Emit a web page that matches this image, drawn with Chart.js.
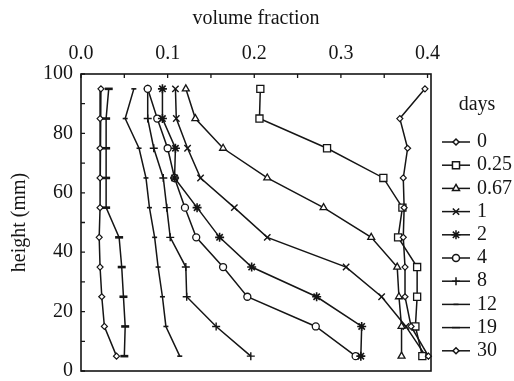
<!DOCTYPE html>
<html>
<head>
<meta charset="utf-8">
<script src="https://cdn.jsdelivr.net/npm/chart.js@4.4.1/dist/chart.umd.min.js"></script>
<style>
    html, body { margin: 0; padding: 0; background: #fff; }
</style>
</head>
<body>
<canvas id="profile" width="514" height="381"></canvas>
<script>
// 측정 높이 (mm) ////////////////////////////////////////////////////////////
const heights = [95, 85, 75, 65, 55, 45, 35, 25, 15, 5];

// 경과 일수별 부피분율 (위 높이 순서)
const days0   = [0.397, 0.368, 0.377, 0.372, 0.373, 0.372, 0.374, 0.374, 0.381, 0.401];
const days025 = [0.207, 0.206, 0.284, 0.349, 0.371, 0.366, 0.388, 0.388, 0.386, 0.394];
const days067 = [0.121, 0.132, 0.164, 0.215, 0.280, 0.335, 0.365, 0.367, 0.370, 0.370];
const days1   = [0.109, 0.110, 0.123, 0.138, 0.177, 0.215, 0.306, 0.347, 0.375, 0.398];
const days2   = [0.094, 0.094, 0.109, 0.108, 0.134, 0.160, 0.197, 0.272, 0.324, 0.323];
const days4   = [0.077, 0.088, 0.100, 0.108, 0.120, 0.133, 0.164, 0.192, 0.271, 0.317];
const days8   = [0.077, 0.077, 0.084, 0.095, 0.099, 0.103, 0.121, 0.122, 0.156, 0.196];
const days12  = [0.061, 0.051, 0.067, 0.075, 0.079, 0.085, 0.089, 0.094, 0.098, 0.114];
const days19  = [0.032, 0.029, 0.029, 0.029, 0.029, 0.044, 0.047, 0.049, 0.051, 0.050];
const days30  = [0.023, 0.022, 0.022, 0.022, 0.022, 0.021, 0.022, 0.024, 0.027, 0.041];

const dayLabels = ['0', '0.25', '0.67', '1', '2', '4', '8', '12', '19', '30'];
const series = [days0, days025, days067, days1, days2, days4, days8, days12, days19, days30];

// 축 눈금
const xTicks = [0, 0.05, 0.1, 0.15, 0.2, 0.25, 0.3, 0.35, 0.4];
const yTicks = [0, 10, 20, 30, 40, 50, 60, 70, 80, 90, 100];

// 마커 모양
const markers = [
    { pointStyle: 'rectRot',  radius: 3,   width: 1.2 },
    { pointStyle: 'rect',     radius: 5,   width: 1.3 },
    { pointStyle: 'triangle', radius: 4,   width: 1.3 },
    { pointStyle: 'crossRot', radius: 4.5, width: 1.4 },
    { pointStyle: 'star',     radius: 4.5, width: 1.6 },
    { pointStyle: 'circle',   radius: 3.5, width: 1.3 },
    { pointStyle: 'cross',    radius: 4,   width: 1.4 },
    { pointStyle: 'line',     radius: 2.5, width: 1.6 },
    { pointStyle: 'line',     radius: 4,   width: 2.6 },
    { pointStyle: 'rectRot',  radius: 3,   width: 1.2 }
];

const INK = '#151515';
const FONT = '"Liberation Serif", "DejaVu Serif", serif';

const datasets = series.map((vals, i) => ({
    label: dayLabels[i],
    data: heights.map((h, k) => ({ x: vals[k], y: h })),
    showLine: true,
    borderColor: INK,
    borderWidth: 1.5,
    pointStyle: markers[i].pointStyle,
    pointRadius: markers[i].radius,
    pointBorderWidth: markers[i].width,
    pointBackgroundColor: '#fff',
    pointBorderColor: INK,
    clip: false
}));

// 테두리 + 안쪽 눈금 ////////////////////////////////////////////////////////
const framePlugin = {
    id: 'frame',
    afterDraw(chart) {
        const ctx = chart.ctx;
        const a = chart.chartArea;
        const xs = chart.scales.x;
        const ys = chart.scales.y;
        ctx.save();
        ctx.strokeStyle = INK;
        ctx.lineWidth = 1.6;
        ctx.strokeRect(a.left, a.top, a.right - a.left, a.bottom - a.top);

        ctx.lineWidth = 1.3;
        ctx.beginPath();
        xTicks.forEach(v => {
            const px = xs.getPixelForValue(v);
            ctx.moveTo(px, a.top);
            ctx.lineTo(px, a.top + 4);
        });
        yTicks.forEach(v => {
            const py = ys.getPixelForValue(v);
            ctx.moveTo(a.left, py);
            ctx.lineTo(a.left + 4, py);
        });
        ctx.stroke();
        ctx.restore();
    }
};

// 오른쪽 범례 ////////////////////////////////////////////////////////////////
const legendPlugin = {
    id: 'daysLegend',
    afterDraw(chart) {
        const ctx = chart.ctx;
        ctx.save();
        ctx.fillStyle = INK;
        ctx.font = '20px ' + FONT;
        ctx.textAlign = 'center';
        ctx.textBaseline = 'middle';
        ctx.fillText('days', 477, 105);

        dayLabels.forEach((lab, i) => {
            const y = 142 + i * 23.2;
            ctx.strokeStyle = INK;
            ctx.lineWidth = 1.5;
            ctx.beginPath();
            ctx.moveTo(442, y);
            ctx.lineTo(470, y);
            ctx.stroke();

            ctx.fillStyle = '#fff';
            Chart.helpers.drawPoint(ctx, {
                pointStyle: markers[i].pointStyle,
                radius: markers[i].radius,
                borderWidth: markers[i].width,
                rotation: 0
            }, 456, y);

            ctx.fillStyle = INK;
            ctx.textAlign = 'left';
            ctx.fillText(lab, 477, y);
        });
        ctx.restore();
    }
};

new Chart(document.getElementById('profile'), {
    type: 'scatter',
    data: { datasets: datasets },
    options: {
        responsive: false,
        animation: false,
        layout: { padding: { left: 0, top: 0, right: 83, bottom: 10 } },
        plugins: {
            legend: { display: false },
            tooltip: { enabled: false }
        },
        scales: {
            x: {
                type: 'linear',
                position: 'top',
                min: 0,
                max: 0.404,
                afterBuildTicks: (axis) => { axis.ticks = xTicks.map(v => ({ value: v })); },
                afterFit: (scale) => {
                    scale.height = 74;
                    scale.paddingLeft = 0;
                    scale.paddingRight = 0;
                },
                grid: { display: false, drawTicks: false },
                border: { display: false },
                ticks: {
                    autoSkip: false,
                    maxRotation: 0,
                    padding: 8,
                    color: INK,
                    font: { family: FONT, size: 20 },
                    callback: (v) => Math.abs(v * 10 - Math.round(v * 10)) < 1e-6 ? v.toFixed(1) : ''
                },
                title: {
                    display: true,
                    text: 'volume fraction',
                    color: INK,
                    font: { family: FONT, size: 20 },
                    padding: { top: 7, bottom: 0 }
                }
            },
            y: {
                type: 'linear',
                min: 0,
                max: 100,
                afterBuildTicks: (axis) => { axis.ticks = yTicks.map(v => ({ value: v })); },
                afterFit: (scale) => {
                    scale.width = 81;
                    scale.paddingTop = 0;
                    scale.paddingBottom = 0;   // 아래 "0" 라벨 여백 무시
                },
                grid: { display: false, drawTicks: false },
                border: { display: false },
                ticks: {
                    autoSkip: false,
                    padding: 8,
                    color: INK,
                    font: { family: FONT, size: 20 },
                    callback: (v) => v % 20 === 0 ? v : ''
                },
                title: {
                    display: true,
                    text: 'height (mm)',
                    color: INK,
                    font: { family: FONT, size: 20 },
                    padding: { top: 8, bottom: 0 }
                }
            }
        }
    },
    plugins: [framePlugin, legendPlugin]
});
</script>
</body>
</html>
